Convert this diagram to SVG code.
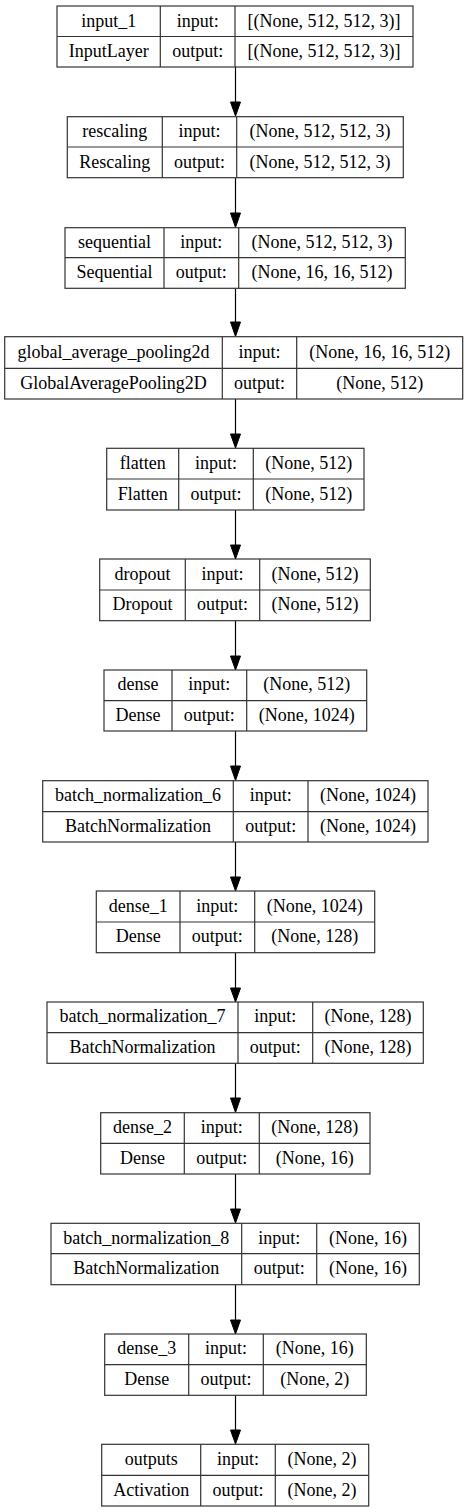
<svg xmlns="http://www.w3.org/2000/svg" width="471" height="1512" viewBox="0 0 471 1512">
<style>
.b{fill:#fff;stroke:#333;stroke-width:1.2}
.l{stroke:#333;stroke-width:1.2;fill:none}
.t text{font-family:'Liberation Serif','Times New Roman',Times,serif;font-size:18px;fill:#000;text-anchor:middle}
.e{stroke:#000;stroke-width:1.2;fill:none}
.h{fill:#000;stroke:#000;stroke-width:1}
</style>
<rect width="471" height="1512" fill="#fff"/>
<g id="connectors">
<line class="e" x1="235.5" y1="67" x2="235.5" y2="102"/><polygon class="h" points="230.5,102 240.5,102 235.5,116"/>
<line class="e" x1="235.5" y1="177.7" x2="235.5" y2="213"/><polygon class="h" points="230.5,213 240.5,213 235.5,227.5"/>
<line class="e" x1="235.5" y1="288.3" x2="235.5" y2="322"/><polygon class="h" points="230.5,322 240.5,322 235.5,336.5"/>
<line class="e" x1="235.5" y1="399" x2="235.5" y2="434"/><polygon class="h" points="230.5,434 240.5,434 235.5,448"/>
<line class="e" x1="235.5" y1="510" x2="235.5" y2="545"/><polygon class="h" points="230.5,545 240.5,545 235.5,559"/>
<line class="e" x1="235.5" y1="620.7" x2="235.5" y2="656"/><polygon class="h" points="230.5,656 240.5,656 235.5,670"/>
<line class="e" x1="235.5" y1="731" x2="235.5" y2="766"/><polygon class="h" points="230.5,766 240.5,766 235.5,780.5"/>
<line class="e" x1="235.5" y1="842" x2="235.5" y2="877"/><polygon class="h" points="230.5,877 240.5,877 235.5,891"/>
<line class="e" x1="235.5" y1="952.7" x2="235.5" y2="988"/><polygon class="h" points="230.5,988 240.5,988 235.5,1002"/>
<line class="e" x1="235.5" y1="1063.3" x2="235.5" y2="1098"/><polygon class="h" points="230.5,1098 240.5,1098 235.5,1112.5"/>
<line class="e" x1="235.5" y1="1174" x2="235.5" y2="1209"/><polygon class="h" points="230.5,1209 240.5,1209 235.5,1223"/>
<line class="e" x1="235.5" y1="1284.7" x2="235.5" y2="1320"/><polygon class="h" points="230.5,1320 240.5,1320 235.5,1334"/>
<line class="e" x1="235.5" y1="1395.3" x2="235.5" y2="1430"/><polygon class="h" points="230.5,1430 240.5,1430 235.5,1444"/>
</g>
<g class="t" font-family="Liberation Serif, Times New Roman, serif" font-size="18" text-anchor="middle">
<g id="input_1">
<rect class="b" x="57" y="6" width="356" height="61"/>
<path class="l" d="M57 36.5H413M160.3 6V67M235 6V67"/>
<text x="108.7" y="26.5">input_1</text><text x="197.7" y="26.5">input:</text><text x="324" y="26.5">[(None, 512, 512, 3)]</text>
<text x="108.7" y="57">InputLayer</text><text x="197.7" y="57">output:</text><text x="324" y="57">[(None, 512, 512, 3)]</text>
</g>
<g id="rescaling">
<rect class="b" x="67.3" y="116.7" width="336" height="61"/>
<path class="l" d="M67.3 147H403.3M162.3 116.7V177.7M236.7 116.7V177.7"/>
<text x="114.8" y="137">rescaling</text><text x="199.5" y="137">input:</text><text x="320" y="137">(None, 512, 512, 3)</text>
<text x="114.8" y="167.5">Rescaling</text><text x="199.5" y="167.5">output:</text><text x="320" y="167.5">(None, 512, 512, 3)</text>
</g>
<g id="sequential">
<rect class="b" x="65" y="227.7" width="340.3" height="60.6"/>
<path class="l" d="M65 257.7H405.3M164 227.7V288.3M238.7 227.7V288.3"/>
<text x="114.5" y="247.7">sequential</text><text x="201.3" y="247.7">input:</text><text x="322" y="247.7">(None, 512, 512, 3)</text>
<text x="114.5" y="278">Sequential</text><text x="201.3" y="278">output:</text><text x="322" y="278">(None, 16, 16, 512)</text>
</g>
<g id="global_average_pooling2d">
<rect class="b" x="4.7" y="336.7" width="458" height="62.3"/>
<path class="l" d="M4.7 368.3H462.7M222.3 336.7V399M296.7 336.7V399"/>
<text x="113.5" y="357.5">global_average_pooling2d</text><text x="259.5" y="357.5">input:</text><text x="379.7" y="357.5">(None, 16, 16, 512)</text>
<text x="113.5" y="388.6">GlobalAveragePooling2D</text><text x="259.5" y="388.6">output:</text><text x="379.7" y="388.6">(None, 512)</text>
</g>
<g id="flatten">
<rect class="b" x="106.7" y="448.3" width="257.3" height="61.7"/>
<path class="l" d="M106.7 479H364M178.7 448.3V510M253.3 448.3V510"/>
<text x="142.7" y="468.7">flatten</text><text x="216" y="468.7">input:</text><text x="308.7" y="468.7">(None, 512)</text>
<text x="142.7" y="499.5">Flatten</text><text x="216" y="499.5">output:</text><text x="308.7" y="499.5">(None, 512)</text>
</g>
<g id="dropout">
<rect class="b" x="99.7" y="559" width="270.6" height="61.7"/>
<path class="l" d="M99.7 590H370.3M185.3 559V620.7M259.7 559V620.7"/>
<text x="142.5" y="579.5">dropout</text><text x="222.5" y="579.5">input:</text><text x="315" y="579.5">(None, 512)</text>
<text x="142.5" y="610.3">Dropout</text><text x="222.5" y="610.3">output:</text><text x="315" y="610.3">(None, 512)</text>
</g>
<g id="dense">
<rect class="b" x="104" y="670" width="262.7" height="61"/>
<path class="l" d="M104 700.7H366.7M172 670V731M246.7 670V731"/>
<text x="138" y="690.3">dense</text><text x="209.3" y="690.3">input:</text><text x="306.7" y="690.3">(None, 512)</text>
<text x="138" y="720.8">Dense</text><text x="209.3" y="720.8">output:</text><text x="306.7" y="720.8">(None, 1024)</text>
</g>
<g id="batch_normalization_6">
<rect class="b" x="42.7" y="780.7" width="385.3" height="61.3"/>
<path class="l" d="M42.7 811.7H428M233.3 780.7V842M308 780.7V842"/>
<text x="138" y="801.2">batch_normalization_6</text><text x="270.7" y="801.2">input:</text><text x="368" y="801.2">(None, 1024)</text>
<text x="138" y="831.8">BatchNormalization</text><text x="270.7" y="831.8">output:</text><text x="368" y="831.8">(None, 1024)</text>
</g>
<g id="dense_1">
<rect class="b" x="96.3" y="891" width="278.4" height="61.7"/>
<path class="l" d="M96.3 922H374.7M180 891V952.7M254.7 891V952.7"/>
<text x="138.2" y="911.5">dense_1</text><text x="217.3" y="911.5">input:</text><text x="314.7" y="911.5">(None, 1024)</text>
<text x="138.2" y="942.3">Dense</text><text x="217.3" y="942.3">output:</text><text x="314.7" y="942.3">(None, 128)</text>
</g>
<g id="batch_normalization_7">
<rect class="b" x="47" y="1002" width="376.3" height="61.3"/>
<path class="l" d="M47 1032.7H423.3M238 1002V1063.3M312.7 1002V1063.3"/>
<text x="142.5" y="1022.3">batch_normalization_7</text><text x="275.3" y="1022.3">input:</text><text x="368" y="1022.3">(None, 128)</text>
<text x="142.5" y="1053">BatchNormalization</text><text x="275.3" y="1053">output:</text><text x="368" y="1053">(None, 128)</text>
</g>
<g id="dense_2">
<rect class="b" x="100.7" y="1112.7" width="269.3" height="61.3"/>
<path class="l" d="M100.7 1143.3H370M184.3 1112.7V1174M259.3 1112.7V1174"/>
<text x="142.5" y="1133">dense_2</text><text x="221.8" y="1133">input:</text><text x="314.7" y="1133">(None, 128)</text>
<text x="142.5" y="1163.7">Dense</text><text x="221.8" y="1163.7">output:</text><text x="314.7" y="1163.7">(None, 16)</text>
</g>
<g id="batch_normalization_8">
<rect class="b" x="51" y="1223.3" width="368.3" height="61.4"/>
<path class="l" d="M51 1253.7H419.3M241.7 1223.3V1284.7M316.7 1223.3V1284.7"/>
<text x="146.3" y="1243.5">batch_normalization_8</text><text x="279.2" y="1243.5">input:</text><text x="368" y="1243.5">(None, 16)</text>
<text x="146.3" y="1274.2">BatchNormalization</text><text x="279.2" y="1274.2">output:</text><text x="368" y="1274.2">(None, 16)</text>
</g>
<g id="dense_3">
<rect class="b" x="104.7" y="1334" width="261.6" height="61.3"/>
<path class="l" d="M104.7 1364.7H366.3M188.7 1334V1395.3M263.3 1334V1395.3"/>
<text x="146.7" y="1354.3">dense_3</text><text x="226" y="1354.3">input:</text><text x="314.8" y="1354.3">(None, 16)</text>
<text x="146.7" y="1385">Dense</text><text x="226" y="1385">output:</text><text x="314.8" y="1385">(None, 2)</text>
</g>
<g id="outputs">
<rect class="b" x="101.7" y="1444.3" width="267" height="61.7"/>
<path class="l" d="M101.7 1475.3H368.7M200.7 1444.3V1506M275.3 1444.3V1506"/>
<text x="151.2" y="1464.8">outputs</text><text x="238" y="1464.8">input:</text><text x="322" y="1464.8">(None, 2)</text>
<text x="151.2" y="1495.7">Activation</text><text x="238" y="1495.7">output:</text><text x="322" y="1495.7">(None, 2)</text>
</g>
</g>
</svg>
